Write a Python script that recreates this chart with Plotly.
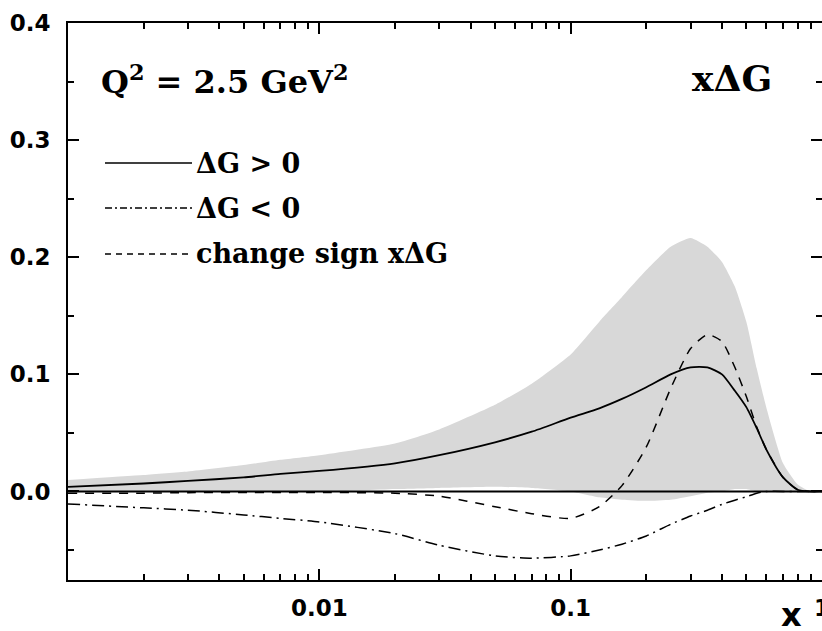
import plotly.graph_objects as go

# ---- data ----
x_vals = [0.001, 0.002, 0.003, 0.005, 0.007, 0.01, 0.02, 0.03, 0.05, 0.07, 0.1,
          0.13, 0.16, 0.2, 0.25, 0.3, 0.35, 0.4, 0.45, 0.5, 0.55, 0.6, 0.7, 0.8, 0.9, 1.0]

dg_pos = [0.004, 0.0068, 0.009, 0.012, 0.015, 0.0175, 0.024, 0.031, 0.042, 0.051, 0.063,
          0.071, 0.079, 0.089, 0.100, 0.106, 0.106, 0.100, 0.086, 0.072, 0.054, 0.036,
          0.012, 0.0015, 0.0, 0.0]

dg_neg = [-0.0107, -0.014, -0.016, -0.020, -0.023, -0.026, -0.036, -0.046, -0.055, -0.057,
          -0.055, -0.050, -0.045, -0.038, -0.028, -0.021, -0.016, -0.011, -0.0075, -0.0045,
          -0.0015, 0.0, 0.0, 0.0, 0.0, 0.0]

dg_change = [-0.0015, -0.0015, -0.001, -0.0008, -0.0008, -0.0008, -0.0015, -0.004, -0.013,
             -0.019, -0.023, -0.013, 0.005, 0.038, 0.088, 0.122, 0.134, 0.128, 0.106, 0.081,
             0.055, 0.036, 0.012, 0.0015, 0.0, 0.0]

band_upper = [0.0098, 0.014, 0.017, 0.0225, 0.027, 0.031, 0.041, 0.053, 0.074, 0.092, 0.117,
              0.145, 0.166, 0.189, 0.209, 0.2165, 0.209, 0.196, 0.175, 0.145, 0.105, 0.072,
              0.024, 0.006, 0.0, 0.0]

band_lower = [0.0, 0.0, 0.0, 0.0, -0.0005, -0.0005, 0.002, 0.003, 0.004, 0.003, 0.0,
              -0.005, -0.007, -0.008, -0.007, -0.004, -0.001, 0.0, 0.002, 0.002, 0.0, 0.0,
              0.0, 0.0, 0.0, 0.0]

x_tickvals = [0.01, 0.1, 1]
x_ticktext = ["0.01", "0.1", "1"]
y_tickvals = [0.0, 0.1, 0.2, 0.3, 0.4]
y_ticktext = ["0.0", "0.1", "0.2", "0.3", "0.4"]

legend_labels = ["\u0394G > 0", "\u0394G < 0", "change sign x\u0394G"]
legend_dashes = ["solid", "7px,3px,2px,3px", "6px,5px"]

# ---- figure ----
W, H = 822, 631
ML, MR, MT, MB = 68, 0, 23, 51

fig = go.Figure()

fig.add_trace(go.Scatter(x=x_vals, y=band_lower, mode="lines",
                         line=dict(width=0, color="rgba(0,0,0,0)", shape="spline", smoothing=0.5),
                         showlegend=False, hoverinfo="skip"))
fig.add_trace(go.Scatter(x=x_vals, y=band_upper, mode="lines", fill="tonexty",
                         fillcolor="#d8d8d8",
                         line=dict(width=0, color="rgba(0,0,0,0)", shape="spline", smoothing=0.5),
                         showlegend=False, hoverinfo="skip"))

fig.add_trace(go.Scatter(x=x_vals, y=dg_neg, mode="lines", name=legend_labels[1],
                         line=dict(color="black", width=1.5, dash="12px,5px,2px,5px",
                                   shape="spline", smoothing=0.6),
                         showlegend=False))
fig.add_trace(go.Scatter(x=x_vals, y=dg_change, mode="lines", name=legend_labels[2],
                         line=dict(color="black", width=1.5, dash="9px,8px",
                                   shape="spline", smoothing=0.6),
                         showlegend=False))
fig.add_trace(go.Scatter(x=x_vals, y=dg_pos, mode="lines", name=legend_labels[0],
                         line=dict(color="black", width=1.8, shape="spline", smoothing=0.6),
                         showlegend=False))

# zero reference line drawn above the band
fig.add_shape(type="line", xref="paper", x0=0, x1=1, yref="y", y0=0, y1=0,
              line=dict(color="black", width=2), layer="above")

minor_x = [k * d for d in (0.001, 0.01, 0.1) for k in range(2, 10)]
minor_y = [-0.05, 0.05, 0.15, 0.25, 0.35]

tickfont = dict(family="DejaVu Sans, sans-serif", size=23, color="black", weight="bold")

fig.update_xaxes(type="log", range=[-3, 0], showline=True, linecolor="black", linewidth=2,
                 mirror="ticks", ticks="inside", ticklen=11, tickwidth=1.5, tickcolor="black",
                 tickvals=x_tickvals, ticktext=x_ticktext, tickfont=tickfont,
                 ticklabelstandoff=6, ticklabeloverflow="allow", automargin=False,
                 minor=dict(tickvals=minor_x, ticks="inside", ticklen=6, tickwidth=1.5,
                            tickcolor="black", showgrid=False),
                 showgrid=False, zeroline=False)
fig.update_yaxes(range=[-0.0756, 0.4], showline=True, linecolor="black", linewidth=2,
                 mirror="ticks", ticks="inside", ticklen=11, tickwidth=1.5, tickcolor="black",
                 tickvals=y_tickvals, ticktext=y_ticktext, tickfont=tickfont,
                 ticklabelstandoff=11, automargin=False,
                 minor=dict(tickvals=minor_y, ticks="inside", ticklen=6, tickwidth=1.5,
                            tickcolor="black", showgrid=False),
                 showgrid=False, zeroline=False)

# legend drawn manually
pw, ph = W - ML - MR, H - MT - MB
def px2paper(px, py):
    return (px - ML) / pw, (H - MB - py) / ph

serif = "DejaVu Serif, serif"
rows_py = [163, 208, 254]
for lab, dash, py in zip(legend_labels, legend_dashes, rows_py):
    x0, y0 = px2paper(105, py)
    x1, _ = px2paper(192, py)
    fig.add_shape(type="line", xref="paper", yref="paper", x0=x0, x1=x1, y0=y0, y1=y0,
                  line=dict(color="black", width=1.5, dash=dash))
    tx, _ = px2paper(194, py)
    fig.add_annotation(xref="paper", yref="paper", x=tx, y=y0, text=lab, showarrow=False,
                       xanchor="left", yanchor="middle",
                       font=dict(family=serif, size=27, color="black", weight="bold"))

qx, qy = px2paper(99, 80)
fig.add_annotation(xref="paper", yref="paper", x=qx, y=qy,
                   text="Q<sup>2</sup> = 2.5 GeV<sup>2</sup>", showarrow=False,
                   xanchor="left", yanchor="middle",
                   font=dict(family=serif, size=32, color="black", weight="bold"))
gx, gy = px2paper(690, 78)
fig.add_annotation(xref="paper", yref="paper", x=gx, y=gy, text="x\u0394G", showarrow=False,
                   xanchor="left", yanchor="middle",
                   font=dict(family=serif, size=36, color="black", weight="bold"))
lx, ly = px2paper(791, 615)
fig.add_annotation(xref="paper", yref="paper", x=lx, y=ly, text="x", showarrow=False,
                   xanchor="center", yanchor="middle",
                   font=dict(family="DejaVu Sans, sans-serif", size=32,
                             color="black", weight="bold"))

fig.update_layout(width=W, height=H, margin=dict(l=ML, r=MR, t=MT, b=MB, autoexpand=False),
                  plot_bgcolor="white", paper_bgcolor="white", showlegend=False)

fig.write_html("out.html", config={"displayModeBar": False},
               post_script="document.body.style.margin='0';document.body.style.overflow='hidden';")
